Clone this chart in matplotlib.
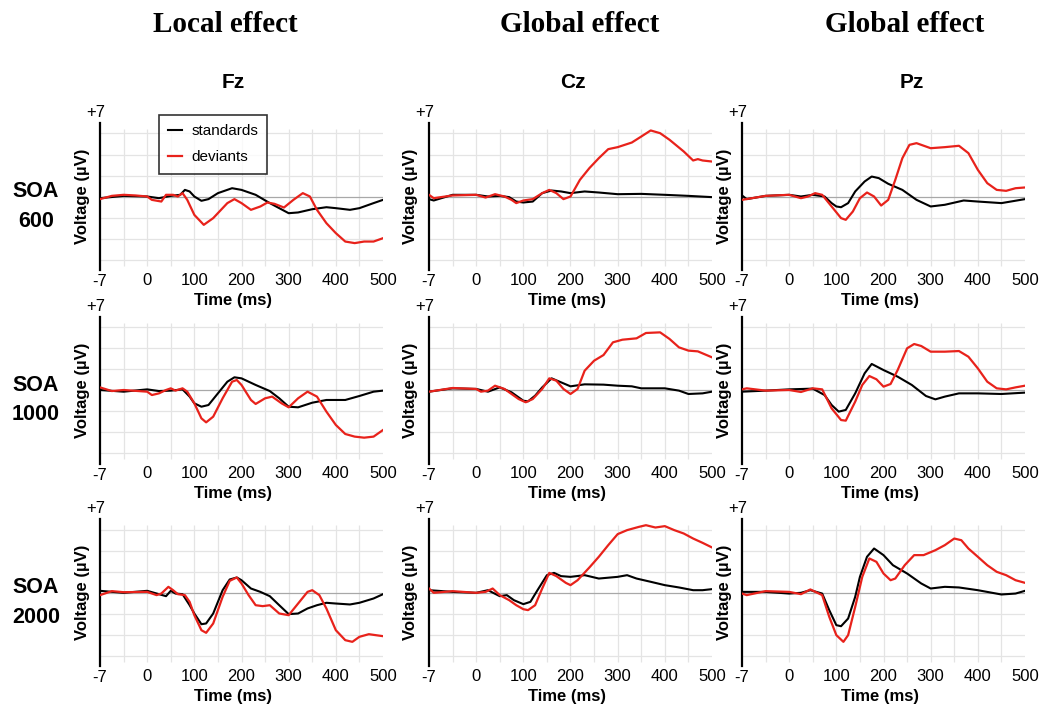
import matplotlib
matplotlib.use("Agg")
import matplotlib.pyplot as plt

W, H = 1041, 709

# ---- data: voltage (uV), times in ms ----
# Fz, SOA 600
fz600_std_t = [-100, -50, 0, 25, 50, 70, 80, 90, 100, 115, 130, 150, 180, 200, 230, 260, 300, 320, 350, 380, 400, 430, 450, 480, 500]
fz600_std = [-0.16, 0.06, 0, -0.16, 0.06, 0.16, 0.63, 0.48, 0, -0.41, -0.25, 0.32, 0.79, 0.63, 0.16, -0.63, -1.59, -1.52, -1.21, -1.02, -1.11, -1.27, -1.11, -0.63, -0.32]
fz600_dev_t = [-100, -75, -50, -25, 0, 10, 30, 40, 55, 65, 75, 85, 100, 120, 140, 170, 185, 200, 220, 240, 255, 270, 290, 310, 330, 345, 360, 380, 400, 420, 440, 460, 480, 500]
fz600_dev = [-0.25, 0.06, 0.16, 0.1, 0, -0.32, -0.48, 0.16, 0.16, 0, 0.32, -0.32, -1.75, -2.7, -2.06, -0.63, -0.25, -0.63, -1.27, -0.95, -0.57, -0.7, -1.05, -0.32, 0.32, 0, -1.27, -2.54, -3.49, -4.29, -4.44, -4.29, -4.29, -3.97]

# Cz, SOA 600
cz600_std_t = [-100, -90, -50, 0, 25, 50, 70, 85, 100, 120, 140, 160, 180, 200, 230, 260, 300, 350, 400, 450, 500]
cz600_std = [-0.25, -0.38, 0.16, 0.16, 0, 0.06, -0.06, -0.48, -0.57, -0.48, 0.32, 0.57, 0.48, 0.32, 0.48, 0.38, 0.22, 0.25, 0.16, 0.06, -0.06]
cz600_dev_t = [-100, -90, -50, 0, 20, 40, 60, 75, 85, 100, 120, 140, 155, 170, 185, 200, 220, 240, 260, 280, 300, 330, 350, 370, 390, 410, 440, 460, 470, 480, 500]
cz600_dev = [0.16, -0.16, 0.1, 0.16, -0.1, 0.22, 0, -0.32, -0.63, -0.38, -0.25, 0.32, 0.63, 0.32, -0.25, 0, 1.59, 2.7, 3.65, 4.51, 4.7, 5.14, 5.71, 6.29, 6.03, 5.4, 4.29, 3.43, 3.56, 3.43, 3.33]

# Pz, SOA 600
pz600_std_t = [-100, -90, -50, 0, 25, 50, 75, 90, 100, 110, 125, 140, 160, 175, 190, 210, 240, 270, 300, 330, 370, 400, 450, 500]
pz600_std = [0.1, -0.25, 0.06, 0.16, 0, 0.16, 0, -0.63, -0.95, -1.02, -0.63, 0.48, 1.43, 1.9, 1.75, 1.21, 0.63, -0.32, -0.95, -0.79, -0.38, -0.48, -0.63, -0.25]
pz600_dev_t = [-100, -50, 0, 25, 40, 55, 70, 90, 110, 120, 135, 150, 165, 180, 195, 210, 225, 240, 255, 270, 300, 330, 360, 380, 400, 420, 440, 460, 480, 500]
pz600_dev = [-0.32, 0.06, 0.16, -0.16, 0, 0.32, 0.16, -0.95, -2.06, -2.22, -1.43, -0.16, 0.38, 0, -0.86, -0.32, 1.59, 3.65, 4.92, 5.08, 4.6, 4.7, 4.83, 4.13, 2.54, 1.27, 0.63, 0.54, 0.79, 0.86]

# Fz, SOA 1000
fz1000_std_t = [-100, -50, 0, 25, 50, 75, 90, 100, 115, 130, 150, 170, 185, 200, 230, 260, 280, 300, 320, 350, 380, 400, 420, 450, 480, 500]
fz1000_std = [0, -0.16, 0.06, -0.1, -0.06, 0.06, -0.63, -1.27, -1.59, -1.43, -0.32, 0.79, 1.21, 1.11, 0.48, -0.1, -0.79, -1.59, -1.65, -1.21, -0.95, -0.95, -0.95, -0.57, -0.16, -0.06]
fz1000_dev_t = [-100, -75, -50, 0, 10, 25, 40, 50, 60, 75, 85, 100, 115, 125, 140, 160, 180, 190, 200, 220, 230, 250, 265, 285, 300, 320, 340, 360, 380, 400, 420, 440, 460, 480, 500]
fz1000_dev = [0.25, -0.1, 0, -0.16, -0.48, -0.32, 0, 0.16, -0.06, 0.16, -0.16, -1.27, -2.7, -3.08, -2.54, -0.79, 0.79, 0.95, 0.48, -0.95, -1.33, -0.79, -0.63, -1.27, -1.65, -0.79, -0.16, -0.63, -2.06, -3.33, -4.19, -4.44, -4.54, -4.44, -3.81]

# Cz, SOA 1000
cz1000_std_t = [-100, -50, 0, 25, 50, 75, 100, 110, 125, 140, 160, 180, 200, 230, 270, 300, 330, 350, 400, 430, 450, 480, 500]
cz1000_std = [-0.16, 0.16, 0.1, -0.16, 0.25, -0.22, -1.02, -1.08, -0.54, 0.25, 1.11, 0.73, 0.35, 0.54, 0.51, 0.41, 0.35, 0.16, 0.16, -0.06, -0.38, -0.32, -0.16]
cz1000_dev_t = [-100, -50, 0, 10, 25, 40, 60, 75, 90, 105, 120, 140, 155, 170, 185, 200, 215, 230, 250, 270, 290, 310, 340, 360, 390, 410, 430, 450, 470, 500]
cz1000_dev = [-0.16, 0.19, 0.1, -0.16, -0.06, 0.41, 0.1, -0.38, -0.86, -1.17, -0.86, 0.1, 1.11, 0.89, 0.1, -0.38, 0.1, 1.84, 2.79, 3.33, 4.54, 4.79, 4.92, 5.43, 5.49, 4.86, 4.06, 3.75, 3.68, 3.11]

# Pz, SOA 1000
pz1000_std_t = [-100, -50, 0, 50, 75, 90, 105, 120, 140, 160, 175, 200, 230, 260, 290, 310, 330, 360, 400, 450, 500]
pz1000_std = [-0.16, -0.06, 0.06, 0.13, -0.48, -1.43, -2.06, -1.9, -0.32, 1.59, 2.48, 1.9, 1.27, 0.48, -0.57, -0.89, -0.63, -0.32, -0.32, -0.38, -0.25]
pz1000_dev_t = [-100, -90, -50, 0, 25, 50, 70, 90, 110, 120, 140, 155, 170, 185, 200, 215, 230, 250, 265, 280, 300, 330, 360, 380, 400, 420, 440, 460, 480, 500]
pz1000_dev = [0.06, 0.16, -0.06, 0, -0.19, 0.16, 0.06, -1.75, -2.86, -2.92, -1.11, 0.48, 1.33, 1.02, 0.32, 0.57, 1.9, 3.97, 4.38, 4.19, 3.65, 3.65, 3.71, 3.17, 2.06, 0.79, 0.16, 0.06, 0.25, 0.41]

# Fz, SOA 2000
fz2000_std_t = [-100, -50, 0, 25, 40, 50, 60, 75, 90, 100, 115, 125, 140, 160, 175, 190, 200, 220, 240, 260, 280, 300, 320, 340, 360, 380, 400, 430, 450, 480, 500]
fz2000_std = [0.16, -0.03, 0.16, -0.16, -0.35, 0.16, -0.1, -0.16, -1.21, -2.0, -3.02, -2.95, -2.0, 0.22, 1.24, 1.43, 1.17, 0.38, 0.06, -0.35, -1.21, -2.06, -2.0, -1.52, -1.21, -0.98, -1.05, -1.14, -0.98, -0.57, -0.16]
fz2000_dev_t = [-100, -90, -75, -50, 0, 20, 30, 45, 55, 65, 80, 90, 100, 115, 125, 140, 160, 175, 190, 200, 215, 230, 245, 260, 280, 300, 320, 340, 350, 365, 380, 400, 420, 435, 450, 470, 500]
fz2000_dev = [-0.25, -0.1, 0.13, 0.03, 0.06, -0.25, -0.1, 0.54, 0.22, -0.16, -0.25, -0.89, -2.16, -3.59, -3.84, -2.95, -0.41, 1.11, 1.43, 0.86, -0.25, -1.21, -1.3, -1.21, -2.0, -2.16, -1.05, 0.06, 0.22, -0.25, -1.52, -3.59, -4.54, -4.7, -4.22, -3.97, -4.16]

# Cz, SOA 2000
cz2000_std_t = [-100, -50, 0, 25, 50, 65, 80, 100, 115, 130, 150, 165, 180, 200, 230, 260, 300, 320, 340, 370, 400, 430, 460, 480, 500]
cz2000_std = [0.22, 0.06, -0.03, 0.22, -0.35, -0.25, -0.73, -1.11, -0.89, 0.22, 1.65, 1.87, 1.56, 1.49, 1.65, 1.33, 1.49, 1.65, 1.33, 1.02, 0.7, 0.48, 0.22, 0.22, 0.32]
cz2000_dev_t = [-100, -90, -50, 0, 20, 35, 50, 70, 85, 100, 110, 125, 140, 155, 170, 190, 200, 215, 240, 260, 280, 300, 320, 345, 360, 380, 400, 420, 440, 460, 480, 500]
cz2000_dev = [0.38, -0.03, 0.13, -0.03, 0.06, 0.38, -0.25, -0.73, -1.21, -1.59, -1.68, -1.21, 0.38, 1.87, 1.56, 0.92, 0.7, 1.17, 2.38, 3.4, 4.51, 5.56, 5.94, 6.25, 6.41, 6.19, 6.32, 5.94, 5.62, 5.14, 4.73, 4.29]

# Pz, SOA 2000
pz2000_std_t = [-100, -50, 0, 25, 45, 70, 85, 100, 110, 125, 140, 150, 165, 180, 200, 220, 250, 280, 300, 330, 360, 400, 450, 480, 500]
pz2000_std = [0.06, 0.06, -0.1, -0.03, 0.22, -0.1, -1.68, -3.11, -3.21, -2.48, -0.41, 1.49, 3.4, 4.19, 3.56, 2.6, 1.81, 0.86, 0.38, 0.54, 0.48, 0.22, -0.19, -0.1, 0.16]
pz2000_dev_t = [-100, -90, -50, 0, 25, 45, 70, 85, 100, 115, 125, 140, 155, 170, 185, 200, 215, 225, 245, 265, 285, 310, 330, 350, 365, 380, 400, 420, 440, 460, 480, 500]
pz2000_dev = [-0.1, -0.25, 0.13, 0.06, -0.16, 0.29, -0.25, -2.32, -4.06, -4.7, -4.06, -1.37, 1.49, 3.24, 2.92, 1.81, 1.17, 1.33, 2.6, 3.56, 3.56, 4.03, 4.51, 5.14, 4.98, 4.19, 3.4, 2.6, 1.97, 1.65, 1.17, 0.92]

col_titles = ["Local effect", "Global effect", "Global effect"]
electrodes = ["Fz", "Cz", "Pz"]
soas = ["600", "1000", "2000"]
xtick_vals = [0, 100, 200, 300, 400, 500]

panels = [
    [(fz600_std_t, fz600_std, fz600_dev_t, fz600_dev),
     (cz600_std_t, cz600_std, cz600_dev_t, cz600_dev),
     (pz600_std_t, pz600_std, pz600_dev_t, pz600_dev)],
    [(fz1000_std_t, fz1000_std, fz1000_dev_t, fz1000_dev),
     (cz1000_std_t, cz1000_std, cz1000_dev_t, cz1000_dev),
     (pz1000_std_t, pz1000_std, pz1000_dev_t, pz1000_dev)],
    [(fz2000_std_t, fz2000_std, fz2000_dev_t, fz2000_dev),
     (cz2000_std_t, cz2000_std, cz2000_dev_t, cz2000_dev),
     (pz2000_std_t, pz2000_std, pz2000_dev_t, pz2000_dev)],
]

# ---- layout (pixels) ----
col_left = [100, 429, 742]
row_top = [123, 316.5, 519]
ax_w, ax_h = 283, 147
time_x = [233, 567, 880]
title_x = [225, 580, 905]
elec_x = [233, 573, 912]

SANS = "Liberation Sans"
RED = "#e8221b"


def fx(px):
    return px / W


def fy(py):
    return 1 - py / H


fig = plt.figure(figsize=(W / 100, H / 100), dpi=100)

for c in range(3):
    fig.text(fx(title_x[c]), fy(25), col_titles[c], family="Liberation Serif",
             weight="bold", fontsize=21, ha="center", va="center")
    fig.text(fx(elec_x[c]), fy(82), electrodes[c], family=SANS,
             weight="bold", fontsize=15, ha="center", va="center")

for r in range(3):
    top = row_top[r]
    bottom = top + ax_h
    zero_y = top + ax_h / 2
    fig.text(fx(36), fy(zero_y - 5), "SOA", family=SANS, weight="bold",
             fontsize=15.5, ha="center", va="center")
    fig.text(fx(36), fy(zero_y + 25), soas[r], family=SANS, weight="bold",
             fontsize=15.5, ha="center", va="center")

    for c in range(3):
        left = col_left[c]
        ax = fig.add_axes([fx(left), fy(bottom), ax_w / W, ax_h / H])
        ax.set_xlim(-100, 500)
        ax.set_ylim(-7, 7)
        for s in ["top", "right", "bottom"]:
            ax.spines[s].set_visible(False)
        ax.spines["left"].set_linewidth(1.6)
        ax.spines["left"].set_color("black")
        ax.set_xticks([])
        ax.set_yticks([])
        ax.patch.set_alpha(0)

        # grid
        ax.hlines([-6, -4, -2, 2, 4, 6], -100, 500, color="#e4e4e4", lw=0.9, zorder=0)
        ax.vlines(list(range(-50, 500, 50)), -6.6, 6.4, color="#e4e4e4", lw=0.9, zorder=0)
        ax.axhline(0, color="#a8a8a8", lw=0.9, zorder=1)

        t_s, v_s, t_d, v_d = panels[r][c]
        ax.plot(t_s, v_s, color="black", lw=1.5, zorder=3, label="standards",
                solid_joinstyle="round")
        ax.plot(t_d, v_d, color=RED, lw=1.6, zorder=4, label="deviants",
                solid_joinstyle="round")

        # tick text
        for xv in xtick_vals:
            ax.annotate(str(xv), xy=(xv, -7), xytext=(0, -7.5), textcoords="offset points",
                        ha="center", va="center", family=SANS, fontsize=12)
        ax.annotate("-7", xy=(-100, -7), xytext=(0, -8.5), textcoords="offset points",
                    ha="center", va="center", family=SANS, fontsize=12)
        ax.annotate("+7", xy=(-100, 7), xytext=(-3, 7.5), textcoords="offset points",
                    ha="center", va="center", family=SANS, fontsize=12)

        fig.text(fx(left - 18), fy(zero_y), "Voltage (\u00b5V)", family=SANS, weight="bold",
                 fontsize=12, rotation=90, ha="center", va="center")
        fig.text(fx(time_x[c]), fy(bottom + 30), "Time (ms)", family=SANS, weight="bold",
                 fontsize=12, ha="center", va="center")

        if r == 0 and c == 0:
            leg = ax.legend(loc="upper left", bbox_to_anchor=(fx(159), fy(115)),
                            bbox_transform=fig.transFigure, borderaxespad=0,
                            frameon=True, fancybox=False, edgecolor="black",
                            handlelength=0.9, handletextpad=0.6, labelspacing=0.8,
                            borderpad=0.6, prop={"family": SANS, "size": 11})
            leg.get_frame().set_linewidth(1.2)

fig.savefig("out.png", dpi=100)
